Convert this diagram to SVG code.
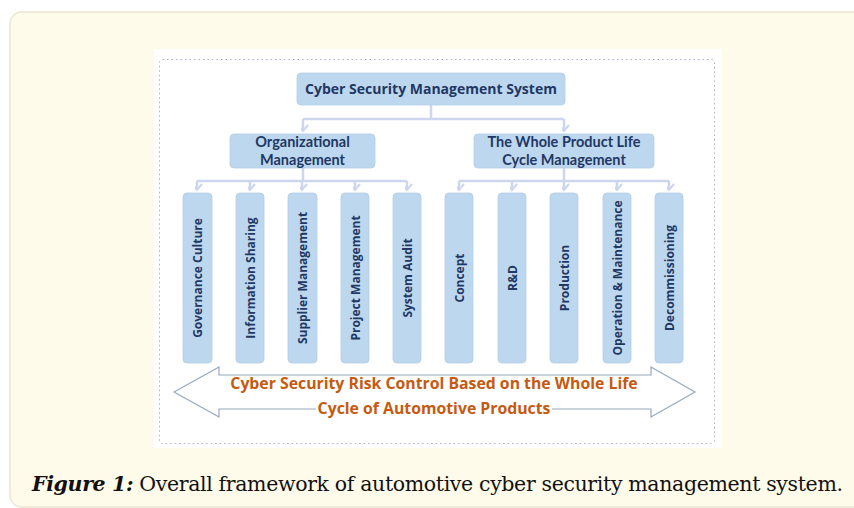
<svg xmlns="http://www.w3.org/2000/svg" width="854" height="508" viewBox="0 0 854 508">
  <style>
    .panel { fill: #fffbea; stroke: #ece6d2; stroke-width: 1.5; }
    .sheet { fill: #ffffff; }
    .frame { fill: none; stroke: #aab3c4; stroke-width: 1; stroke-dasharray: 1.5 3; }
    .box { fill: #bdd7ee; stroke: #b3cde6; stroke-width: 0.8; }
    .lbl { font-family: "Open Sans", "Liberation Sans", sans-serif; font-weight: bold; fill: #1f3864; }
    .two { font-family: Lato, "Open Sans", sans-serif; font-weight: bold; fill: #1f3864; font-size: 14.5px; }
    .big { font-size: 14px; }
    .vert { font-size: 12px; }
    .wire { fill: none; stroke: #cdd6ee; stroke-width: 2.5; }
    .band { fill: #ffffff; stroke: #98a8c0; stroke-width: 1.2; }
    .risk { font-family: "Open Sans", "Liberation Sans", sans-serif; font-weight: bold; font-size: 15.8px; fill: #c55a11; }
    .cap { font-family: "DejaVu Serif", "Liberation Serif", serif; font-size: 20.5px; fill: #111111; }
  </style>
  <defs>
    <marker id="chev" markerUnits="userSpaceOnUse" markerWidth="14" markerHeight="12" viewBox="-7 -10 14 12" refX="0" refY="0" orient="auto-start-reverse">
      <path d="M-5,-6 L0,0 L5,-6" fill="none" stroke="#cdd6ee" stroke-width="2" transform="rotate(-90)"/>
    </marker>
  </defs>

  <!-- page panel -->
  <rect class="panel" x="10" y="12" width="860" height="495" rx="12"/>
  <rect class="sheet" x="154" y="49" width="568" height="399"/>
  <rect class="frame" x="159.5" y="59.5" width="555" height="384" rx="3"/>

  <!-- connectors -->
  <g id="connectors">
    <path class="wire" d="M431,105 V119 M303,119 H564"/>
    <path class="wire" d="M303,119 V131" marker-end="url(#chev)"/>
    <path class="wire" d="M564,119 V131" marker-end="url(#chev)"/>

    <path class="wire" d="M303,168 V181 M197,181 H407"/>
    <path class="wire" d="M197,181 V190" marker-end="url(#chev)"/>
    <path class="wire" d="M250,181 V190" marker-end="url(#chev)"/>
    <path class="wire" d="M302,181 V190" marker-end="url(#chev)"/>
    <path class="wire" d="M355,181 V190" marker-end="url(#chev)"/>
    <path class="wire" d="M407,181 V190" marker-end="url(#chev)"/>

    <path class="wire" d="M564,168 V181 M459,181 H669"/>
    <path class="wire" d="M459,181 V190" marker-end="url(#chev)"/>
    <path class="wire" d="M512,181 V190" marker-end="url(#chev)"/>
    <path class="wire" d="M564,181 V190" marker-end="url(#chev)"/>
    <path class="wire" d="M617,181 V190" marker-end="url(#chev)"/>
    <path class="wire" d="M669,181 V190" marker-end="url(#chev)"/>
  </g>

  <!-- root -->
  <g id="csms">
    <rect class="box" x="297" y="73" width="268" height="32" rx="4"/>
    <text class="lbl big" x="431" y="94" text-anchor="middle">Cyber Security Management System</text>
  </g>

  <!-- second level -->
  <g id="org-mgmt">
    <rect class="box" x="230" y="134" width="145" height="34" rx="4"/>
    <text class="two" text-anchor="middle"><tspan x="302.5" y="147">Organizational</tspan><tspan x="302.5" y="164.5">Management</tspan></text>
  </g>
  <g id="lifecycle-mgmt">
    <rect class="box" x="474" y="134" width="180" height="34" rx="4"/>
    <text class="two" text-anchor="middle"><tspan x="564" y="147">The Whole Product Life</tspan><tspan x="564" y="164.5">Cycle Management</tspan></text>
  </g>

  <!-- organisational leaves -->
  <g id="governance">
    <rect class="box" x="183" y="193" width="29" height="170" rx="4"/>
    <text class="lbl vert" transform="translate(202,278) rotate(-90)" text-anchor="middle">Governance Culture</text>
  </g>
  <g id="info-sharing">
    <rect class="box" x="236" y="193" width="28" height="170" rx="4"/>
    <text class="lbl vert" transform="translate(254.5,278) rotate(-90)" text-anchor="middle">Information Sharing</text>
  </g>
  <g id="supplier">
    <rect class="box" x="288" y="193" width="29" height="170" rx="4"/>
    <text class="lbl vert" transform="translate(307,278) rotate(-90)" text-anchor="middle">Supplier Management</text>
  </g>
  <g id="project">
    <rect class="box" x="341" y="193" width="28" height="170" rx="4"/>
    <text class="lbl vert" transform="translate(359.5,278) rotate(-90)" text-anchor="middle">Project Management</text>
  </g>
  <g id="audit">
    <rect class="box" x="393" y="193" width="28" height="170" rx="4"/>
    <text class="lbl vert" transform="translate(411.5,278) rotate(-90)" text-anchor="middle">System Audit</text>
  </g>

  <!-- lifecycle leaves -->
  <g id="concept">
    <rect class="box" x="445" y="193" width="28" height="170" rx="4"/>
    <text class="lbl vert" transform="translate(463.5,278) rotate(-90)" text-anchor="middle">Concept</text>
  </g>
  <g id="rnd">
    <rect class="box" x="498" y="193" width="28" height="170" rx="4"/>
    <text class="lbl vert" transform="translate(516.5,278) rotate(-90)" text-anchor="middle">R&amp;D</text>
  </g>
  <g id="production">
    <rect class="box" x="550" y="193" width="28" height="170" rx="4"/>
    <text class="lbl vert" transform="translate(568.5,278) rotate(-90)" text-anchor="middle">Production</text>
  </g>
  <g id="operation">
    <rect class="box" x="603" y="193" width="28" height="170" rx="4"/>
    <text class="lbl vert" transform="translate(621.5,278) rotate(-90)" text-anchor="middle">Operation &amp; Maintenance</text>
  </g>
  <g id="decommissioning">
    <rect class="box" x="655" y="193" width="28" height="170" rx="4"/>
    <text class="lbl vert" transform="translate(673.5,278) rotate(-90)" text-anchor="middle">Decommissioning</text>
  </g>

  <!-- double-headed band with its label -->
  <g id="risk-control">
    <polygon class="band" points="174,392 219,367 219,375 651,375 651,367 695,392 651,417 651,409 219,409 219,417"/>
    <rect x="316" y="399" width="236" height="18" fill="#ffffff"/>
    <text class="risk" text-anchor="middle"><tspan x="434" y="389">Cyber Security Risk Control Based on the Whole Life</tspan><tspan x="434" y="414">Cycle of Automotive Products</tspan></text>
  </g>

  <!-- caption -->
  <text class="cap" x="32" y="491" textLength="811" lengthAdjust="spacing"><tspan font-weight="bold" font-style="italic">Figure 1:</tspan> Overall framework of automotive cyber security management system.</text>
</svg>
